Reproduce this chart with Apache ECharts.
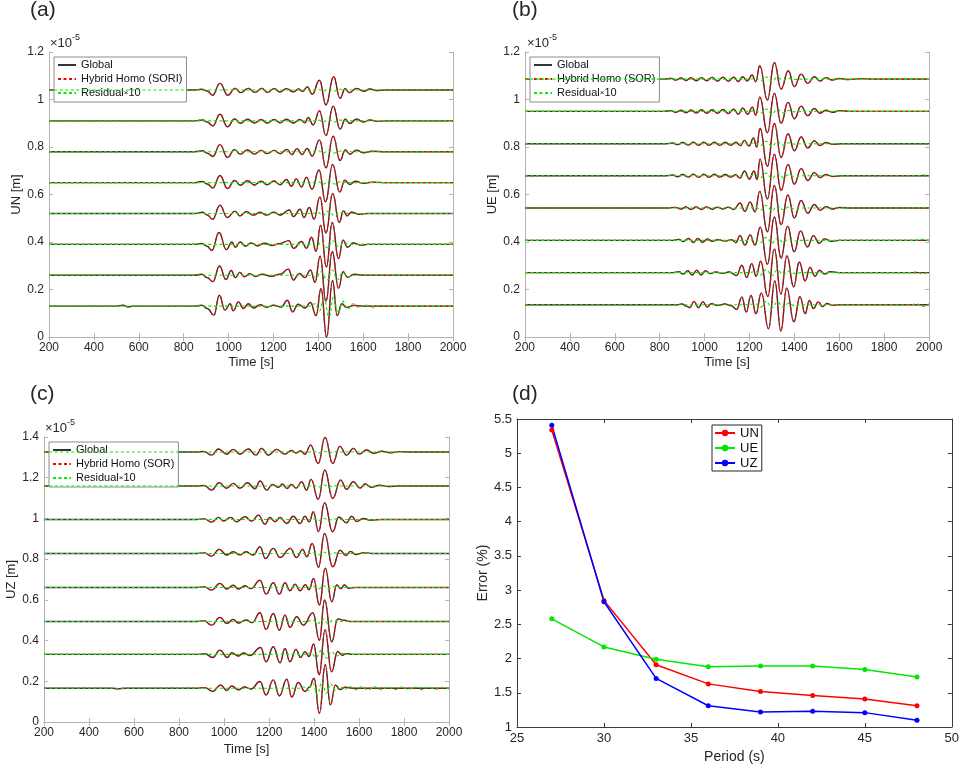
<!DOCTYPE html>
<html><head><meta charset="utf-8">
<script src="https://cdn.jsdelivr.net/npm/echarts@6/dist/echarts.min.js"></script>
<style>html,body{margin:0;padding:0;background:#fff}#c{width:962px;height:771px}</style>
</head><body><div id="c"></div>
<script>
// ---------- Panel (a) UN ----------
const baseA = [0.13, 0.26, 0.39, 0.52, 0.65, 0.78, 0.91, 1.04];
const waveA = [
 [[200,0],[500,0],[530,0.004],[550,-0.003],[580,0],[850,0],[880,0.004],[905,-0.010],[935,-0.038],[959,0.046],[984,-0.017],[1007,0.010],[1021,-0.020],[1044,0.018],[1066,-0.010],[1088,0.010],[1111,-0.008],[1140,0.006],[1170,-0.005],[1200,0.004],[1235,-0.004],[1262,0.025],[1285,-0.024],[1310,0.008],[1340,-0.008],[1365,0.015],[1390,-0.040],[1412,0.074],[1437,-0.131],[1463,0.108],[1484,-0.040],[1505,0.010],[1525,-0.006],[1560,0.003],[1600,0],[2000,0]],
 [[200,0],[850,0],[880,0.004],[905,-0.010],[930,-0.027],[960,0.039],[988,-0.018],[1012,0.020],[1030,-0.010],[1050,0.012],[1070,-0.006],[1095,0.007],[1120,-0.005],[1150,0.004],[1190,-0.004],[1230,0.004],[1266,0.026],[1289,-0.020],[1315,0.008],[1340,-0.010],[1365,0.022],[1385,-0.030],[1408,0.080],[1434,-0.110],[1462,0.100],[1490,-0.055],[1510,0.015],[1530,-0.008],[1560,0.004],[1600,0],[2000,0]],
 [[200,0],[850,0],[880,0.004],[905,-0.008],[925,-0.026],[958,0.050],[990,-0.022],[1015,0.010],[1030,-0.012],[1052,0.010],[1075,-0.008],[1100,0.006],[1130,-0.006],[1160,0.005],[1195,-0.005],[1230,0.004],[1268,0.016],[1290,-0.017],[1325,0.012],[1347,-0.016],[1370,0.030],[1390,-0.030],[1410,0.080],[1436,-0.095],[1462,0.092],[1490,-0.060],[1510,0.018],[1530,-0.012],[1555,0.006],[1590,-0.003],[1620,0],[2000,0]],
 [[200,0],[850,0],[885,0.005],[905,-0.006],[929,-0.024],[962,0.035],[994,-0.017],[1029,0.010],[1050,-0.010],[1080,0.008],[1110,-0.007],[1140,0.005],[1170,-0.007],[1200,0.005],[1230,-0.006],[1271,0.015],[1289,-0.013],[1319,0.018],[1336,-0.017],[1360,0.025],[1381,-0.024],[1407,0.070],[1434,-0.082],[1464,0.084],[1493,-0.038],[1512,0.012],[1528,-0.010],[1548,0.006],[1580,-0.003],[1620,0],[2000,0]],
 [[200,0],[850,0],[885,0.005],[905,-0.006],[930,-0.022],[962,0.030],[995,-0.025],[1027,0.009],[1052,-0.011],[1085,0.008],[1115,-0.010],[1145,0.006],[1172,-0.009],[1203,0.007],[1230,-0.009],[1258,0.013],[1280,-0.015],[1302,0.016],[1325,-0.018],[1347,0.022],[1372,-0.028],[1403,0.053],[1432,-0.081],[1464,0.077],[1495,-0.040],[1518,0.010],[1540,-0.008],[1565,0.006],[1600,-0.003],[1640,0.002],[1700,0],[2000,0]],
 [[200,0],[850,0],[885,0.004],[905,-0.006],[930,-0.020],[962,0.030],[995,-0.024],[1027,0.009],[1052,-0.010],[1085,0.008],[1115,-0.010],[1145,0.006],[1172,-0.008],[1203,0.006],[1230,-0.008],[1260,0.010],[1282,-0.012],[1305,0.013],[1328,-0.012],[1350,0.014],[1373,-0.018],[1405,0.050],[1434,-0.068],[1466,0.066],[1497,-0.037],[1520,0.008],[1540,-0.010],[1570,0.007],[1600,-0.004],[1640,0.002],[1700,0],[2000,0]],
 [[200,0],[850,0],[885,0.004],[905,-0.005],[930,-0.021],[962,0.028],[995,-0.025],[1027,0.008],[1052,-0.010],[1085,0.007],[1115,-0.009],[1145,0.006],[1172,-0.009],[1203,0.006],[1230,-0.008],[1258,0.007],[1288,-0.009],[1318,0.006],[1340,-0.008],[1355,0.014],[1377,-0.017],[1405,0.042],[1434,-0.062],[1466,0.062],[1497,-0.034],[1520,0.007],[1540,-0.011],[1570,0.008],[1600,-0.005],[1630,0.004],[1665,-0.002],[1700,0],[2000,0]],
 [[200,0],[850,0],[880,0.003],[905,-0.004],[929,-0.022],[962,0.028],[996,-0.022],[1029,0.007],[1054,-0.011],[1088,0.007],[1118,-0.010],[1148,0.007],[1173,-0.010],[1203,0.006],[1229,-0.008],[1259,0.006],[1289,-0.008],[1311,0.004],[1330,-0.006],[1351,0.013],[1373,-0.018],[1405,0.041],[1434,-0.063],[1468,0.056],[1497,-0.035],[1519,0.006],[1538,-0.011],[1571,0.007],[1601,-0.005],[1630,0.004],[1660,-0.002],[1700,0],[2000,0]]
];
const resA = [
 [[200,0],[1360,0],[1385,0.010],[1405,-0.020],[1425,0.030],[1448,-0.045],[1468,0.040],[1488,-0.030],[1510,0.020],[1530,-0.012],[1555,0.010],[1580,-0.006],[1610,0.005],[1640,-0.004],[1680,0.003],[1720,0],[2000,0]],
 [[200,0],[1370,0],[1390,-0.010],[1412,0.015],[1440,-0.020],[1462,0.022],[1485,-0.018],[1510,0.012],[1535,-0.006],[1560,0],[2000,0]],
 [[200,0],[1370,0],[1392,-0.007],[1415,0.010],[1440,-0.014],[1465,0.015],[1490,-0.010],[1515,0.006],[1540,0],[2000,0]],
 [[200,0],[1375,0],[1398,0.005],[1420,-0.008],[1445,0.010],[1470,-0.008],[1495,0.005],[1520,0],[2000,0]],
 [[200,0],[1380,0],[1400,0.004],[1422,-0.006],[1447,0.007],[1472,-0.006],[1497,0.004],[1520,0],[2000,0]],
 [[200,0],[1380,0],[1400,0.004],[1422,-0.005],[1447,0.006],[1472,-0.005],[1497,0.003],[1520,0],[2000,0]],
 [[200,0],[1380,0],[1400,0.003],[1422,-0.004],[1447,0.005],[1472,-0.004],[1497,0.003],[1520,0],[2000,0]],
 [[200,0],[1380,0],[1400,0.003],[1422,-0.004],[1447,0.004],[1472,-0.004],[1497,0.003],[1520,0],[2000,0]]
];

// ---------- Panel (b) UE ----------
const baseB = [0.136, 0.271, 0.407, 0.543, 0.679, 0.814, 0.950, 1.086];
const waveB = [
 [[200,0],[880,0],[900,0.003],[918,-0.006],[935,-0.012],[953,0.014],[972,-0.013],[993,0.012],[1012,-0.010],[1030,0.004],[1060,-0.003],[1090,0.003],[1118,-0.004],[1143,-0.020],[1166,0.032],[1186,-0.031],[1207,0.039],[1229,-0.038],[1253,0.050],[1285,-0.101],[1313,0.100],[1340,-0.111],[1366,0.070],[1398,-0.072],[1425,0.034],[1448,-0.038],[1467,0.018],[1485,-0.016],[1507,0.012],[1525,-0.008],[1545,0.005],[1570,-0.003],[1600,0],[2000,0]],
 [[200,0],[860,0],[885,0.004],[905,-0.006],[925,0.008],[945,-0.010],[965,0.010],[985,-0.010],[1005,0.008],[1025,-0.004],[1050,0.003],[1080,-0.003],[1110,0.003],[1143,-0.012],[1166,0.031],[1188,-0.020],[1210,0.038],[1230,-0.015],[1250,0.048],[1282,-0.100],[1311,0.100],[1340,-0.090],[1367,0.070],[1397,-0.060],[1422,0.045],[1448,-0.035],[1470,0.022],[1492,-0.015],[1512,0.010],[1535,-0.006],[1560,0.004],[1600,0],[2000,0]],
 [[200,0],[860,0],[885,0.004],[905,-0.005],[928,0.008],[950,-0.009],[970,0.008],[992,-0.009],[1012,0.006],[1035,-0.004],[1060,0.003],[1090,-0.003],[1120,0.003],[1140,-0.010],[1158,0.020],[1180,-0.020],[1203,0.023],[1225,-0.020],[1248,0.055],[1280,-0.100],[1311,0.098],[1341,-0.075],[1370,0.060],[1399,-0.048],[1428,0.040],[1458,-0.028],[1485,0.020],[1510,-0.012],[1535,0.006],[1565,-0.004],[1600,0],[2000,0]],
 [[200,0],[840,0],[870,0.003],[895,-0.004],[918,0.005],[940,-0.006],[963,0.005],[986,-0.006],[1010,0.005],[1034,-0.005],[1058,0.004],[1082,-0.004],[1106,0.004],[1130,-0.006],[1158,0.021],[1180,-0.014],[1203,0.025],[1225,-0.016],[1246,0.070],[1280,-0.100],[1311,0.095],[1341,-0.070],[1371,0.055],[1400,-0.042],[1430,0.032],[1460,-0.022],[1489,0.015],[1515,-0.010],[1540,0.006],[1570,-0.004],[1600,0.002],[1650,0],[2000,0]],
 [[200,0],[830,0],[858,0.003],[880,-0.004],[903,0.005],[926,-0.006],[950,0.006],[973,-0.007],[996,0.006],[1020,-0.007],[1044,0.006],[1068,-0.006],[1092,0.005],[1116,-0.006],[1138,0.004],[1158,-0.010],[1178,0.020],[1200,-0.014],[1220,0.020],[1234,-0.016],[1247,0.070],[1280,-0.098],[1311,0.090],[1341,-0.062],[1372,0.048],[1400,-0.036],[1430,0.030],[1460,-0.020],[1489,0.013],[1515,-0.008],[1540,0.005],[1570,-0.003],[1610,0],[2000,0]],
 [[200,0],[830,0],[858,0.003],[880,-0.004],[903,0.005],[926,-0.006],[950,0.006],[973,-0.007],[996,0.006],[1020,-0.007],[1044,0.006],[1068,-0.007],[1092,0.006],[1116,-0.007],[1140,0.006],[1160,-0.008],[1178,0.014],[1198,-0.010],[1218,0.024],[1232,-0.014],[1247,0.065],[1280,-0.095],[1311,0.085],[1341,-0.058],[1372,0.042],[1400,-0.030],[1430,0.028],[1460,-0.018],[1489,0.012],[1515,-0.008],[1540,0.005],[1570,-0.003],[1610,0],[2000,0]],
 [[200,0],[820,0],[850,0.003],[872,-0.004],[895,0.005],[918,-0.006],[940,0.006],[963,-0.007],[986,0.007],[1010,-0.008],[1034,0.007],[1058,-0.008],[1082,0.008],[1106,-0.009],[1130,0.009],[1150,-0.012],[1170,0.014],[1192,-0.012],[1213,0.018],[1228,-0.016],[1246,0.060],[1280,-0.090],[1311,0.076],[1341,-0.050],[1372,0.038],[1400,-0.031],[1430,0.022],[1460,-0.018],[1489,0.012],[1515,-0.008],[1540,0.005],[1570,-0.004],[1600,0.003],[1650,0],[2000,0]],
 [[200,0],[820,0],[850,0.003],[872,-0.004],[895,0.005],[918,-0.006],[940,0.006],[963,-0.007],[986,0.006],[1010,-0.007],[1034,0.007],[1058,-0.008],[1082,0.008],[1106,-0.009],[1130,0.008],[1150,-0.010],[1170,0.010],[1190,-0.008],[1212,0.017],[1228,-0.011],[1246,0.056],[1280,-0.088],[1311,0.070],[1341,-0.042],[1373,0.035],[1400,-0.032],[1430,0.021],[1460,-0.018],[1489,0.010],[1515,-0.008],[1540,0.006],[1570,-0.004],[1600,0.003],[1640,-0.002],[1700,0.002],[1750,0],[2000,0]]
];
const resB = [
 [[200,0],[1200,0],[1225,0.005],[1250,-0.010],[1275,0.014],[1300,-0.014],[1325,0.012],[1350,-0.010],[1375,0.006],[1400,-0.004],[1430,0],[1920,0],[1945,0.004],[1970,-0.008],[2000,0.004]],
 [[200,0],[1200,0],[1225,0.005],[1250,-0.010],[1275,0.013],[1300,-0.013],[1325,0.011],[1350,-0.009],[1375,0.005],[1400,-0.003],[1430,0],[1920,0],[1945,0.004],[1970,-0.006],[2000,0.006]],
 [[200,0],[1200,0],[1225,0.004],[1250,-0.009],[1275,0.012],[1300,-0.012],[1325,0.010],[1350,-0.008],[1375,0.005],[1400,-0.003],[1430,0],[1940,0],[1970,0.004],[2000,-0.002]],
 [[200,0],[1200,0],[1225,0.004],[1250,-0.008],[1275,0.011],[1300,-0.011],[1325,0.009],[1350,-0.007],[1375,0.004],[1400,-0.003],[1430,0],[1940,0],[1970,0.003],[2000,-0.002]],
 [[200,0],[1200,0],[1225,0.004],[1250,-0.008],[1275,0.011],[1300,-0.011],[1325,0.009],[1350,-0.007],[1375,0.004],[1400,-0.003],[1430,0],[1950,0],[1975,0.003],[2000,0.001]],
 [[200,0],[1200,0],[1225,0.004],[1250,-0.008],[1275,0.010],[1300,-0.010],[1325,0.008],[1350,-0.006],[1375,0.004],[1400,-0.002],[1430,0],[2000,0]],
 [[200,0],[1200,0],[1225,0.004],[1250,-0.007],[1275,0.010],[1300,-0.010],[1325,0.008],[1350,-0.006],[1375,0.004],[1400,-0.002],[1430,0],[2000,0]],
 [[200,0],[1200,0],[1225,0.003],[1250,-0.007],[1275,0.009],[1300,-0.009],[1325,0.007],[1350,-0.005],[1375,0.003],[1400,-0.002],[1430,0],[2000,0]]
];

// ---------- Panel (c) UZ ----------
const baseC = [0.166, 0.332, 0.494, 0.661, 0.828, 0.995, 1.159, 1.326];
const waveC = [
 [[200,0],[500,0],[530,-0.003],[560,0],[880,0],[915,0.003],[950,-0.016],[985,0.016],[1012,-0.011],[1034,0.011],[1064,-0.008],[1090,0.006],[1120,-0.004],[1160,0.033],[1187,-0.033],[1219,0.041],[1246,-0.038],[1279,0.044],[1301,-0.044],[1330,0.028],[1360,-0.016],[1380,0.006],[1400,0.049],[1424,-0.123],[1450,0.115],[1473,-0.082],[1495,0.015],[1515,-0.006],[1540,0.005],[1570,0],[2000,0]],
 [[200,0],[880,0],[915,0.003],[950,-0.015],[982,0.021],[1015,-0.015],[1034,0.008],[1064,-0.008],[1086,0.007],[1115,-0.005],[1163,0.034],[1187,-0.036],[1219,0.038],[1249,-0.041],[1271,0.029],[1293,-0.036],[1320,0.025],[1340,-0.015],[1360,0.013],[1378,-0.010],[1398,0.051],[1423,-0.100],[1449,0.120],[1478,-0.085],[1505,0.014],[1525,-0.004],[1545,0.004],[1570,0],[2000,0]],
 [[200,0],[880,0],[912,0.003],[945,-0.018],[982,0.020],[1012,-0.010],[1041,0.010],[1064,-0.008],[1098,0.007],[1125,-0.006],[1160,0.043],[1187,-0.039],[1219,0.039],[1246,-0.043],[1271,0.031],[1293,-0.029],[1323,0.023],[1353,-0.018],[1395,0.043],[1424,-0.092],[1447,0.105],[1479,-0.100],[1505,0.012],[1535,0.006],[1560,0],[2000,0]],
 [[200,0],[880,0],[912,0.003],[945,-0.013],[982,0.020],[1012,-0.008],[1041,0.011],[1064,-0.008],[1093,0.008],[1120,-0.006],[1160,0.036],[1187,-0.033],[1219,0.023],[1246,-0.033],[1271,0.023],[1293,-0.016],[1316,0.016],[1338,-0.016],[1362,0.014],[1378,-0.012],[1398,0.044],[1424,-0.087],[1450,0.095],[1479,-0.070],[1501,0.012],[1519,-0.006],[1535,0.012],[1555,-0.004],[1580,0],[2000,0]],
 [[200,0],[880,0],[912,0.003],[945,-0.013],[979,0.020],[1012,-0.008],[1041,0.008],[1071,-0.007],[1098,0.008],[1130,-0.008],[1160,0.033],[1184,-0.025],[1219,0.025],[1249,-0.020],[1295,0.025],[1322,-0.020],[1350,0.020],[1368,-0.016],[1392,0.049],[1420,-0.068],[1447,0.098],[1483,-0.066],[1516,0.016],[1542,-0.010],[1562,0.010],[1585,-0.005],[1620,0.003],[1660,0],[2000,0]],
 [[200,0],[880,0],[912,0.003],[945,-0.013],[975,0.010],[997,-0.007],[1030,0.010],[1056,-0.011],[1093,0.013],[1123,-0.008],[1153,0.021],[1182,-0.023],[1204,0.010],[1227,-0.011],[1249,0.010],[1279,-0.020],[1308,0.016],[1338,-0.020],[1360,0.016],[1379,-0.012],[1397,0.038],[1420,-0.060],[1447,0.082],[1483,-0.061],[1510,0.012],[1545,-0.016],[1567,0.016],[1590,-0.010],[1619,0.005],[1650,-0.003],[1700,0],[2000,0]],
 [[200,0],[880,0],[912,0.003],[945,-0.020],[979,0.016],[1012,-0.011],[1041,0.013],[1071,-0.011],[1104,0.016],[1138,-0.013],[1160,0.025],[1190,-0.020],[1215,0.008],[1242,-0.006],[1260,0.010],[1280,-0.012],[1300,0.008],[1320,-0.010],[1345,0.021],[1367,-0.020],[1387,0.033],[1419,-0.065],[1448,0.079],[1483,-0.061],[1518,0.029],[1545,-0.016],[1575,0.021],[1604,-0.010],[1627,0.010],[1655,-0.006],[1690,0.004],[1730,-0.002],[1780,0],[2000,0]],
 [[200,0],[880,0],[910,0.003],[945,-0.015],[975,0.015],[1012,-0.010],[1041,0.013],[1071,-0.010],[1108,0.015],[1142,-0.015],[1167,0.018],[1197,-0.015],[1234,0.013],[1271,-0.010],[1300,0.008],[1320,-0.004],[1340,0.006],[1360,-0.010],[1385,0.034],[1419,-0.056],[1449,0.072],[1483,-0.056],[1515,0.028],[1545,-0.015],[1575,0.018],[1600,-0.010],[1634,0.010],[1665,-0.006],[1700,0.004],[1740,-0.003],[1780,0.002],[1820,0],[2000,0]]
];
const resC = [
 [[200,0],[1330,0],[1355,0.006],[1375,-0.012],[1395,0.025],[1415,-0.033],[1435,0.030],[1455,-0.025],[1475,0.020],[1495,-0.012],[1515,0.010],[1535,-0.008],[1560,0.008],[1585,-0.008],[1610,0.007],[1640,-0.008],[1670,0.007],[1700,-0.007],[1730,0.006],[1760,-0.007],[1790,0.006],[1820,-0.006],[1850,0.006],[1880,-0.007],[1910,0.006],[1940,-0.006],[1970,0.005],[2000,-0.004]],
 [[200,0],[1360,0],[1385,0.008],[1410,-0.015],[1432,0.020],[1455,-0.018],[1478,0.014],[1500,-0.008],[1525,0.005],[1550,0],[2000,0]],
 [[200,0],[1370,0],[1395,0.006],[1418,-0.010],[1440,0.012],[1462,-0.010],[1485,0.006],[1510,0],[2000,0]],
 [[200,0],[1375,0],[1398,0.004],[1420,-0.007],[1442,0.008],[1465,-0.006],[1488,0.004],[1510,0],[2000,0]],
 [[200,0],[1380,0],[1400,0.004],[1422,-0.006],[1445,0.006],[1468,-0.005],[1490,0.003],[1510,0],[2000,0]],
 [[200,0],[1380,0],[1400,0.003],[1422,-0.005],[1445,0.005],[1468,-0.004],[1490,0.003],[1510,0],[2000,0]],
 [[200,0],[1380,0],[1400,0.003],[1422,-0.004],[1445,0.005],[1468,-0.004],[1490,0.002],[1510,0],[2000,0]],
 [[200,0],[1380,0],[1400,0.003],[1422,-0.004],[1445,0.004],[1468,-0.003],[1490,0.002],[1510,0],[2000,0]]
];

// ---------- Panel (d) errors ----------
const periods = [27, 30, 33, 36, 39, 42, 45, 48];
const errUN = [5.34, 2.85, 1.91, 1.63, 1.52, 1.46, 1.41, 1.31];
const errUE = [2.58, 2.17, 1.99, 1.88, 1.89, 1.89, 1.84, 1.73];
const errUZ = [5.41, 2.83, 1.71, 1.31, 1.22, 1.23, 1.21, 1.10];

// ---------- build ----------
const FONT = 'Liberation Sans, Arial, Helvetica, sans-serif';
const grids = [
  {left: 49, top: 52, width: 404, height: 285},
  {left: 525, top: 52, width: 404, height: 285},
  {left: 44, top: 437, width: 405, height: 285},
  {left: 517, top: 419, width: 435, height: 308}
];
const fmt1 = v => String(parseFloat(v.toFixed(1)));
const fmtX = v => String(Math.round(v));
const xAxes = [], yAxes = [];
function addAxes(g, xo, yo, xname, yname, light, fs, nameFs, xGap, yGap) {
  const lc = light ? '#b4b4b4' : '#3a3a3a';
  const common = {axisLine: {show: true, lineStyle: {color: lc, width: 1}}, splitLine: {show: false},
    axisTick: {show: true, inside: true, length: 4, lineStyle: {color: lc}}};
  xAxes.push(Object.assign({gridIndex: g, type: 'value', position: 'bottom', min: xo[0], max: xo[1], interval: xo[2],
    name: xname, nameLocation: 'middle', nameGap: xGap, nameTextStyle: {fontFamily: FONT, fontSize: nameFs, color: '#262626'},
    axisLabel: {fontFamily: FONT, fontSize: fs, color: '#262626', margin: 5, formatter: fmtX}}, common));
  xAxes.push(Object.assign({gridIndex: g, type: 'value', position: 'top', min: xo[0], max: xo[1], interval: xo[2],
    axisLabel: {show: false}}, common));
  yAxes.push(Object.assign({gridIndex: g, type: 'value', position: 'left', min: yo[0], max: yo[1], interval: yo[2],
    name: yname, nameLocation: 'middle', nameGap: yGap, nameTextStyle: {fontFamily: FONT, fontSize: nameFs, color: '#262626'},
    axisLabel: {fontFamily: FONT, fontSize: fs, color: '#262626', margin: 5, formatter: fmt1}}, common));
  yAxes.push(Object.assign({gridIndex: g, type: 'value', position: 'right', min: yo[0], max: yo[1], interval: yo[2],
    axisLabel: {show: false}}, common));
}
addAxes(0, [200, 2000, 200], [0, 1.2, 0.2], 'Time [s]', 'UN [m]', true, 12, 13, 19, 24);
addAxes(1, [200, 2000, 200], [0, 1.2, 0.2], 'Time [s]', 'UE [m]', true, 12, 13, 19, 23);
addAxes(2, [200, 2000, 200], [0, 1.4, 0.2], 'Time [s]', 'UZ [m]', true, 12, 13, 21, 23);
addAxes(3, [25, 50, 5], [1, 5.5, 0.5], 'Period (s)', 'Error (%)', false, 13, 14, 23, 25);

const series = [];
function addWaves(p, base, waves, res, hybridName) {
  for (let i = 0; i < base.length; i++) {
    const gd = waves[i].map(([t, a]) => [t, base[i] + a]);
    const rd = res[i].map(([t, a]) => [t, base[i] + a]);
    const c = {type: 'line', xAxisIndex: 2 * p, yAxisIndex: 2 * p, symbol: 'none', smooth: 0.45, smoothMonotone: 'x', silent: true};
    series.push(Object.assign({name: 'Global', data: gd, z: 2, lineStyle: {color: '#333333', width: 1.4}, itemStyle: {color: '#333333'}}, c));
    series.push(Object.assign({name: hybridName, data: gd, z: 3, lineStyle: {color: '#ff0000', width: 1.1, type: [3, 2.5]}, itemStyle: {color: '#ff0000'}}, c));
    series.push(Object.assign({name: 'Residual×10', data: rd, z: 4, lineStyle: {color: '#00ee00', width: 1.1, type: [3, 2.5]}, itemStyle: {color: '#00ee00'}}, c));
  }
}
addWaves(0, baseA, waveA, resA, 'Hybrid Homo (SORI)');
addWaves(1, baseB, waveB, resB, 'Hybrid Homo (SOR)');
addWaves(2, baseC, waveC, resC, 'Hybrid Homo (SOR)');
const errCols = [['UN', errUN, '#ff0000'], ['UE', errUE, '#00e800'], ['UZ', errUZ, '#0000ff']];
errCols.forEach(([n, arr, col]) => {
  series.push({type: 'line', name: n, xAxisIndex: 6, yAxisIndex: 6, data: periods.map((x, i) => [x, arr[i]]),
    symbol: 'circle', symbolSize: 5, lineStyle: {color: col, width: 1.5}, itemStyle: {color: col}, z: 3});
});

const legBase = {orient: 'vertical', backgroundColor: '#fff', borderColor: '#8c8c8c', borderWidth: 1,
  itemWidth: 18, itemHeight: 10, itemGap: 0, selectedMode: false, itemStyle: {opacity: 0},
  textStyle: {fontFamily: FONT, fontSize: 11, color: '#111', lineHeight: 14, rich: {s: {fontSize: 8, fontFamily: FONT, color: '#111'}}},
  formatter: n => n === 'Residual×10' ? 'Residual{s|×}10' : n};
const legends = [
  Object.assign({}, legBase, {left: 54, top: 57, padding: [1, 4, 2, 3], data: ['Global', 'Hybrid Homo (SORI)', 'Residual×10']}),
  Object.assign({}, legBase, {left: 530, top: 57, padding: [1, 4, 2, 3], data: ['Global', 'Hybrid Homo (SOR)', 'Residual×10']}),
  Object.assign({}, legBase, {left: 49, top: 442, padding: [1, 4, 2, 3], data: ['Global', 'Hybrid Homo (SOR)', 'Residual×10']}),
  {orient: 'vertical', left: 712, top: 425, padding: [1, 3, 1, 2], itemWidth: 20, itemHeight: 8, itemGap: 1, selectedMode: false,
   backgroundColor: '#fff', borderColor: '#262626', borderWidth: 1,
   textStyle: {fontFamily: FONT, fontSize: 13, color: '#111', lineHeight: 14}, data: ['UN', 'UE', 'UZ']}
];

const txt = (l, t, s, fs) => ({type: 'text', left: l, top: t, silent: true,
  style: {text: s, fontFamily: FONT, fontSize: fs, fill: '#262626'}});
const graphic = [
  txt(30, 0, '(a)', 21), txt(512, 0, '(b)', 21), txt(30, 384, '(c)', 21), txt(512, 384, '(d)', 21),
  txt(50, 37, '×10', 13), txt(72, 33, '-5', 9),
  txt(527, 37, '×10', 13), txt(549, 33, '-5', 9),
  txt(45, 422, '×10', 13), txt(67, 418, '-5', 9)
];

const chart = echarts.init(document.getElementById('c'), null, {renderer: 'canvas'});
chart.setOption({
  animation: false, backgroundColor: '#fff',
  grid: grids, xAxis: xAxes, yAxis: yAxes, series: series, legend: legends, graphic: graphic
});
</script></body></html>
